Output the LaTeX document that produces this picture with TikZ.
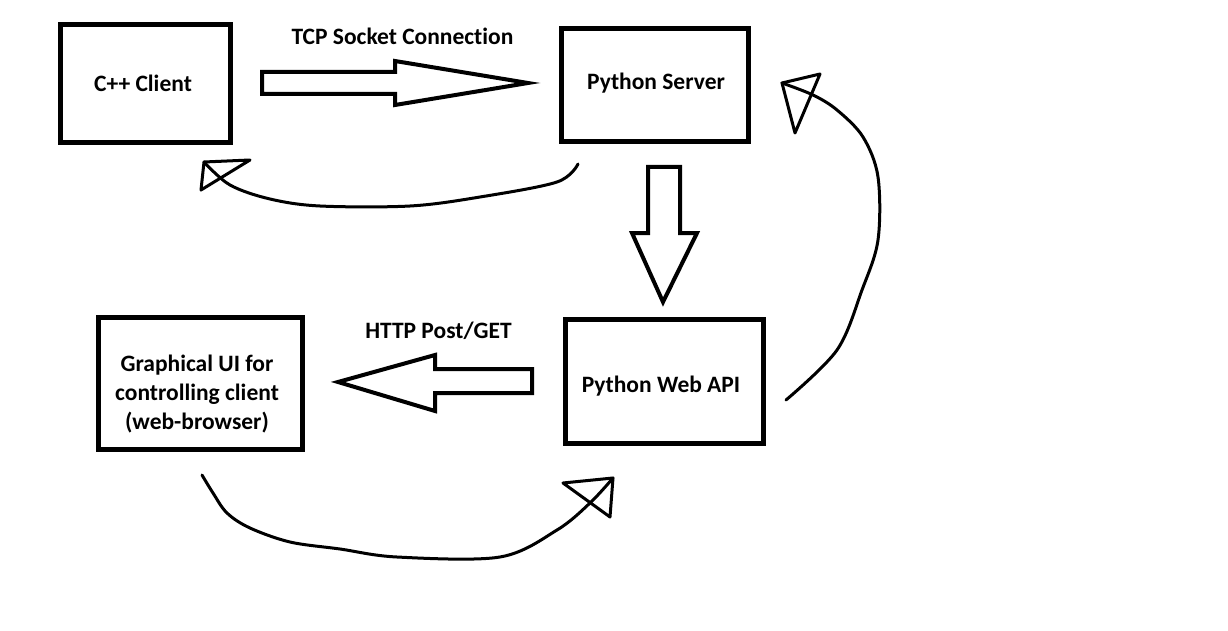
\documentclass[tikz,border=0pt]{standalone}
\usepackage{fontspec}
\setmainfont{Carlito}[Ligatures=NoCommon]
\begin{document}
\begin{tikzpicture}[x=1pt,y=-1pt,
  box/.style={draw, line width=5pt, inner sep=0pt},
  txt/.style={font=\bfseries\fontsize{23.5}{29}\selectfont, inner sep=0pt, anchor=base, align=center},
  blockarrow/.style={draw, line width=4pt, line join=miter},
  sketch/.style={line width=3pt, line join=round, line cap=round}]
\useasboundingbox[fill=white] (0,0) rectangle (1228,631);

% boxes
\node[box, minimum width=170pt, minimum height=118pt] (client) at (145.5,83.5) {};
\node[box, minimum width=187pt, minimum height=113pt] (server) at (655,85) {};
\node[box, minimum width=204pt, minimum height=132pt] (gui) at (200.5,383.5) {};
\node[box, minimum width=198pt, minimum height=124pt] (api) at (664.5,381.5) {};

% texts
\node[txt] (clienttxt) at (143,92) {C++ Client};
\node[txt] (servertxt) at (656,90) {Python Server};
\node[txt] (apitxt) at (661,392) {Python Web API};
\node[txt, anchor=north] (guitxt) at (197,355) {Graphical UI for\\controlling client\\(web-browser)};
\node[txt] (tcp) at (402.5,45) {TCP Socket Connection};
\node[txt] (http) at (438.5,338) {HTTP Post/GET};

% block arrows
\draw[blockarrow] (262,72) -- (395,72) -- (395,61) -- (528,83) -- (395,105) -- (395,94) -- (262,94) -- cycle;
\draw[blockarrow] (648,167) -- (680,167) -- (680,233) -- (697,233) -- (663,302) -- (632,233) -- (648,233) -- cycle;
\draw[blockarrow] (532,369) -- (435,369) -- (435,355) -- (338,382) -- (435,411) -- (435,393) -- (532,393) -- cycle;

% sketched curved arrows
\coordinate (s1) at (578,164);
\coordinate (t1) at (204,162);
\draw[sketch] plot[smooth, tension=0.55] coordinates {(s1) (557,182) (480,197) (410,206) (320,206) (270,199) (230,185) (t1)};
\draw[sketch] (t1) -- (250,160) -- (201,190) -- cycle;

\coordinate (s2) at (786,400);
\coordinate (t2) at (782,83);
\draw[sketch] plot[smooth, tension=0.55] coordinates {(s2) (837,350) (862,290) (878,240) (878,177) (863,137) (837,110) (813,95) (t2)};
\draw[sketch] (t2) -- (820,74) -- (795,133) -- cycle;

\coordinate (s3) at (202,475);
\coordinate (t3) at (613,478);
\draw[sketch] plot[smooth, tension=0.55] coordinates {(s3) (213,493) (227,513) (250,528) (290,542) (340,549) (397,557) (500,557) (557,530) (590,503) (t3)};
\draw[sketch] (t3) -- (563,483) -- (610,517) -- cycle;
\end{tikzpicture}
\end{document}
